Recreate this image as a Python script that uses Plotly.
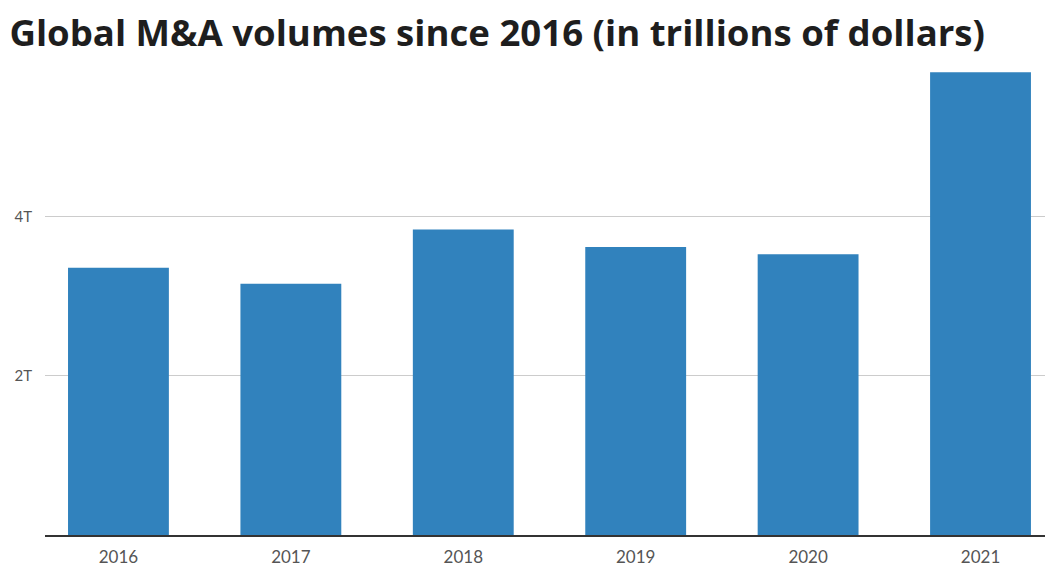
import plotly.graph_objects as go

years = ["2016", "2017", "2018", "2019", "2020", "2021"]
volumes = [3.36, 3.16, 3.84, 3.62, 3.53, 5.82]
tick_vals = [2, 4]
tick_text = ["2T", "4T"]

fig = go.Figure(go.Bar(
    x=years, y=volumes,
    marker=dict(color="#3182bd", line=dict(width=0)),
    width=0.585,
))

fig.update_layout(
    width=1045, height=570,
    margin=dict(l=45, r=0, t=65, b=35),
    paper_bgcolor="white", plot_bgcolor="white",
    showlegend=False,
    title=dict(text="<b>Global M&A volumes since 2016 (in trillions of dollars)</b>",
               x=0.009, xanchor="left", y=0.942, yanchor="middle",
               font=dict(family="Open Sans", size=36.6, color="#1e1e1e")),
    font=dict(family="Lato", color="#555555", size=14),
)
fig.update_xaxes(
    type="category", range=[-0.426, 5.374],
    showline=True, linecolor="#333333", linewidth=1.5,
    ticks="", showgrid=False,
    ticklabelstandoff=6,
    tickfont=dict(size=17, color="#555555"),
)
fig.update_yaxes(
    range=[0, 5.91], tickvals=tick_vals, ticktext=tick_text,
    showgrid=True, gridcolor="#cccccc", gridwidth=1,
    zeroline=False, showline=False, ticks="",
    ticklabelstandoff=12,
    tickfont=dict(size=15, color="#555555"),
)

fig.write_html("out.html")
